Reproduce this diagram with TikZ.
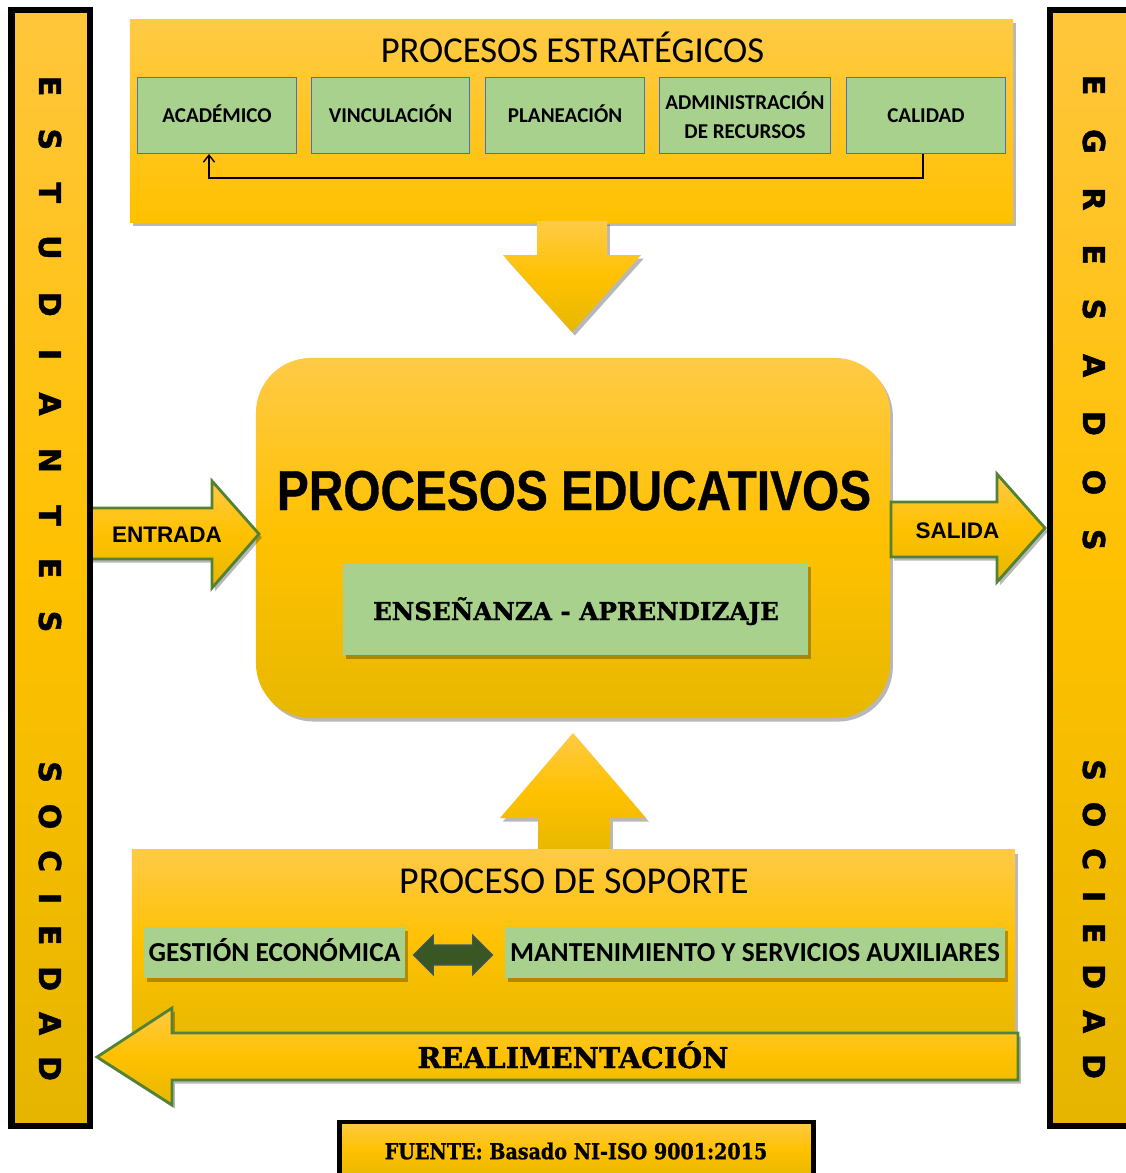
\documentclass[tikz,border=0pt]{standalone}
\usepackage{fontspec}
\setmainfont{Carlito}
\newfontfamily\heavyfont[BoldFeatures={FakeBold=1.6}]{DejaVu Sans}
\newfontfamily\arialfont{Liberation Sans}
\newfontfamily\narrowfont[FakeStretch=0.85,BoldFeatures={FakeBold=0.6}]{Liberation Sans}
\newfontfamily\slabfont[BoldFeatures={FakeBold=1.2}]{DejaVu Serif}
\newfontfamily\slabnarrow[FakeStretch=0.87,BoldFeatures={FakeBold=1.0}]{DejaVu Serif}
\usetikzlibrary{shadows,arrows.meta,calc}
\definecolor{ytop}{RGB}{255,202,70}
\definecolor{ymid}{RGB}{255,193,0}
\definecolor{ybot}{RGB}{231,184,0}
\definecolor{bartop}{RGB}{255,198,60}
\definecolor{barbot}{RGB}{230,181,0}
\definecolor{boxgreen}{RGB}{169,209,142}
\definecolor{boxblue}{RGB}{68,114,196}
\definecolor{arrowgreen}{RGB}{84,130,53}
\definecolor{darkgreen}{RGB}{56,87,35}
\definecolor{slate}{RGB}{68,84,106}
\begin{document}
\begin{tikzpicture}[x=0.025cm,y=-0.025cm,
  shadowed/.style={drop shadow={shadow xshift=2pt,shadow yshift=-2.5pt,opacity=0.28,fill=black}},
  yshade/.style={top color=ytop,bottom color=ybot,middle color=ymid},
  panel/.style={yshade,shadowed,inner sep=0pt},
  flatpanel/.style={top color=ytop,bottom color=ymid,shadowed,inner sep=0pt},
  sidebar/.style={top color=bartop,bottom color=barbot,middle color=ymid,draw=black,line width=4.3pt,inner sep=0pt},
  stratbox/.style={fill=boxgreen,draw=boxblue,line width=0.7pt,inner sep=0pt,minimum height=1.9cm,align=center,font=\bfseries\fontsize{15}{20.6}\selectfont},
  oneline/.style={text height=9.7pt,text depth=0pt},
  greenplain/.style={fill=boxgreen,shadowed,inner sep=0pt},
  supbox/.style={greenplain,minimum height=1.275cm,text height=12.6pt,text depth=0pt,font=\bfseries\fontsize{19.5}{24}\selectfont},
  bigarrow/.style={yshade,shadowed},
  textarrow/.style={yshade,draw=arrowgreen,line width=2pt,line join=miter,shadowed},
  arrowlabel/.style={inner sep=0pt,text height=11.5pt,text depth=0pt,font=\arialfont\bfseries\fontsize{16}{18}\selectfont},
  vtext/.style={font=\heavyfont\bfseries\fontsize{21.4}{24}\selectfont,rotate=-90,anchor=west,inner sep=0pt},
  fbline/.style={draw=black,line width=1pt,-{Straight Barb[length=5pt,width=8pt]}}
]
\useasboundingbox (0,0) rectangle (1126,1173);

% ---------- strategic processes panel ----------
\node[flatpanel,minimum width=22.075cm,minimum height=5.05cm] (strat) at (571.5,121) {};
\node[anchor=base,inner sep=0pt,font=\fontsize{26}{30}\selectfont] (strattitle) at (572.5,62) {PROCESOS ESTRATÉGICOS};
\node[stratbox,oneline,minimum width=3.95cm] (aca) at (217,115.5) {ACADÉMICO};
\node[stratbox,oneline,minimum width=3.925cm] (vin) at (390.5,115.5) {VINCULACIÓN};
\node[stratbox,oneline,minimum width=3.95cm] (pla) at (565,115.5) {PLANEACIÓN};
\node[stratbox,minimum width=4.25cm] (adm) at (745,115.5) {ADMINISTRACIÓN\\DE RECURSOS};
\node[stratbox,oneline,minimum width=3.95cm] (cal) at (926,115.5) {CALIDAD};
\coordinate (fbr) at (923,178);
\coordinate (fbl) at (209,178);
\draw[fbline] (cal.south -| fbr) -- (fbr) -- (fbl) -- (aca.south -| fbl);

% ---------- down arrow ----------
\path[bigarrow] (537,221) -- (607,221) -- (607,255) -- (641,255) -- (572,332) -- (503,255) -- (537,255) -- cycle;

% ---------- educational processes ----------
\node[panel,rounded corners=1.375cm,minimum width=15.85cm,minimum height=9cm] (edu) at (573,538) {};
\node[anchor=base,inner sep=0pt,font=\narrowfont\bfseries\fontsize{40}{44}\selectfont] (edutitle) at (574,510) {PROCESOS EDUCATIVOS};
\node[greenplain,minimum width=11.625cm,minimum height=2.3cm] (ens) at (575.5,609) {};
\node[anchor=base,inner sep=0pt,font=\slabfont\bfseries\fontsize{17.5}{20}\selectfont] (enstext) at (576,620) {ENSEÑANZA - APRENDIZAJE};

% ---------- up arrow ----------
\path[bigarrow] (538,851) -- (610,851) -- (610,818) -- (646,818) -- (573,733) -- (500,818) -- (538,818) -- cycle;

% ---------- support processes ----------
\node[panel,minimum width=22.075cm,minimum height=4.75cm] (sop) at (573.5,945) {};
\node[anchor=base,inner sep=0pt,font=\fontsize{27}{30}\selectfont] (soptitle) at (574,893) {PROCESO DE SOPORTE};
\node[supbox,minimum width=6.525cm] (gest) at (274.5,952.5) {GESTIÓN ECONÓMICA};
\node[supbox,minimum width=12.5cm] (mant) at (755,952.5) {MANTENIMIENTO Y SERVICIOS AUXILIARES};
\coordinate (dl) at ($(gest.east)+(8,2.5)$);
\coordinate (dr) at ($(mant.west)+(-12,2.5)$);
\path[fill=darkgreen,draw=slate,line width=0.8pt,line join=miter]
  (dl) -- ++(20,-20) -- ++(0,10) -- ($(dr)+(-20,-10)$) -- ++(0,-10) -- (dr)
  -- ++(-20,20) -- ++(0,-10) -- ($(dl)+(20,10)$) -- ++(0,10) -- cycle;

% ---------- feedback arrow ----------
\path[textarrow] (1018,1033) -- (172,1033) -- (172,1008) -- (97,1057) -- (172,1105) -- (172,1080) -- (1018,1080) -- cycle;
\node[anchor=base,inner sep=0pt,font=\slabfont\bfseries\fontsize{20.4}{24}\selectfont] (realim) at (573,1068) {REALIMENTACIÓN};

% ---------- input / output arrows ----------
\path[textarrow] (86,508) -- (212,508) -- (212,481) -- (259,534) -- (212,588) -- (212,559) -- (86,559) -- cycle;
\node[arrowlabel] (entrada) at (167,534) {ENTRADA};
\path[textarrow] (891,502) -- (997,502) -- (997,474) -- (1045,528) -- (997,582) -- (997,557) -- (891,557) -- cycle;
\node[arrowlabel] (salida) at (957.5,530) {SALIDA};

% ---------- side bars ----------
\node[sidebar,minimum width=1.9625cm,minimum height=27.9cm] (lbar) at (50.75,568) {};
\node[sidebar,minimum width=2.125cm,minimum height=27.9cm] (rbar) at (1092.5,568) {};
\node[vtext] (lw1) at (50,75.5) {\addfontfeature{LetterSpace=107}ESTUDIANTES};
\node[vtext] (lw2) at (50,761) {\addfontfeature{LetterSpace=69}SOCIEDAD};
\node[vtext] (rw1) at (1094,74.5) {\addfontfeature{LetterSpace=112}EGRESADOS};
\node[vtext] (rw2) at (1094,759) {\addfontfeature{LetterSpace=69}SOCIEDAD};

% ---------- source ----------
\node[top color=ytop,bottom color=ybot,middle color=ymid,draw=black,line width=3.5pt,minimum width=11.825cm,minimum height=1.4cm,inner sep=0pt,shadowed] (src) at (576.5,1150) {};
\node[inner sep=0pt,font=\slabnarrow\bfseries\fontsize{15.6}{18}\selectfont] (srctext) at (576,1151) {FUENTE: Basado NI-ISO 9001:2015};
\end{tikzpicture}
\end{document}
